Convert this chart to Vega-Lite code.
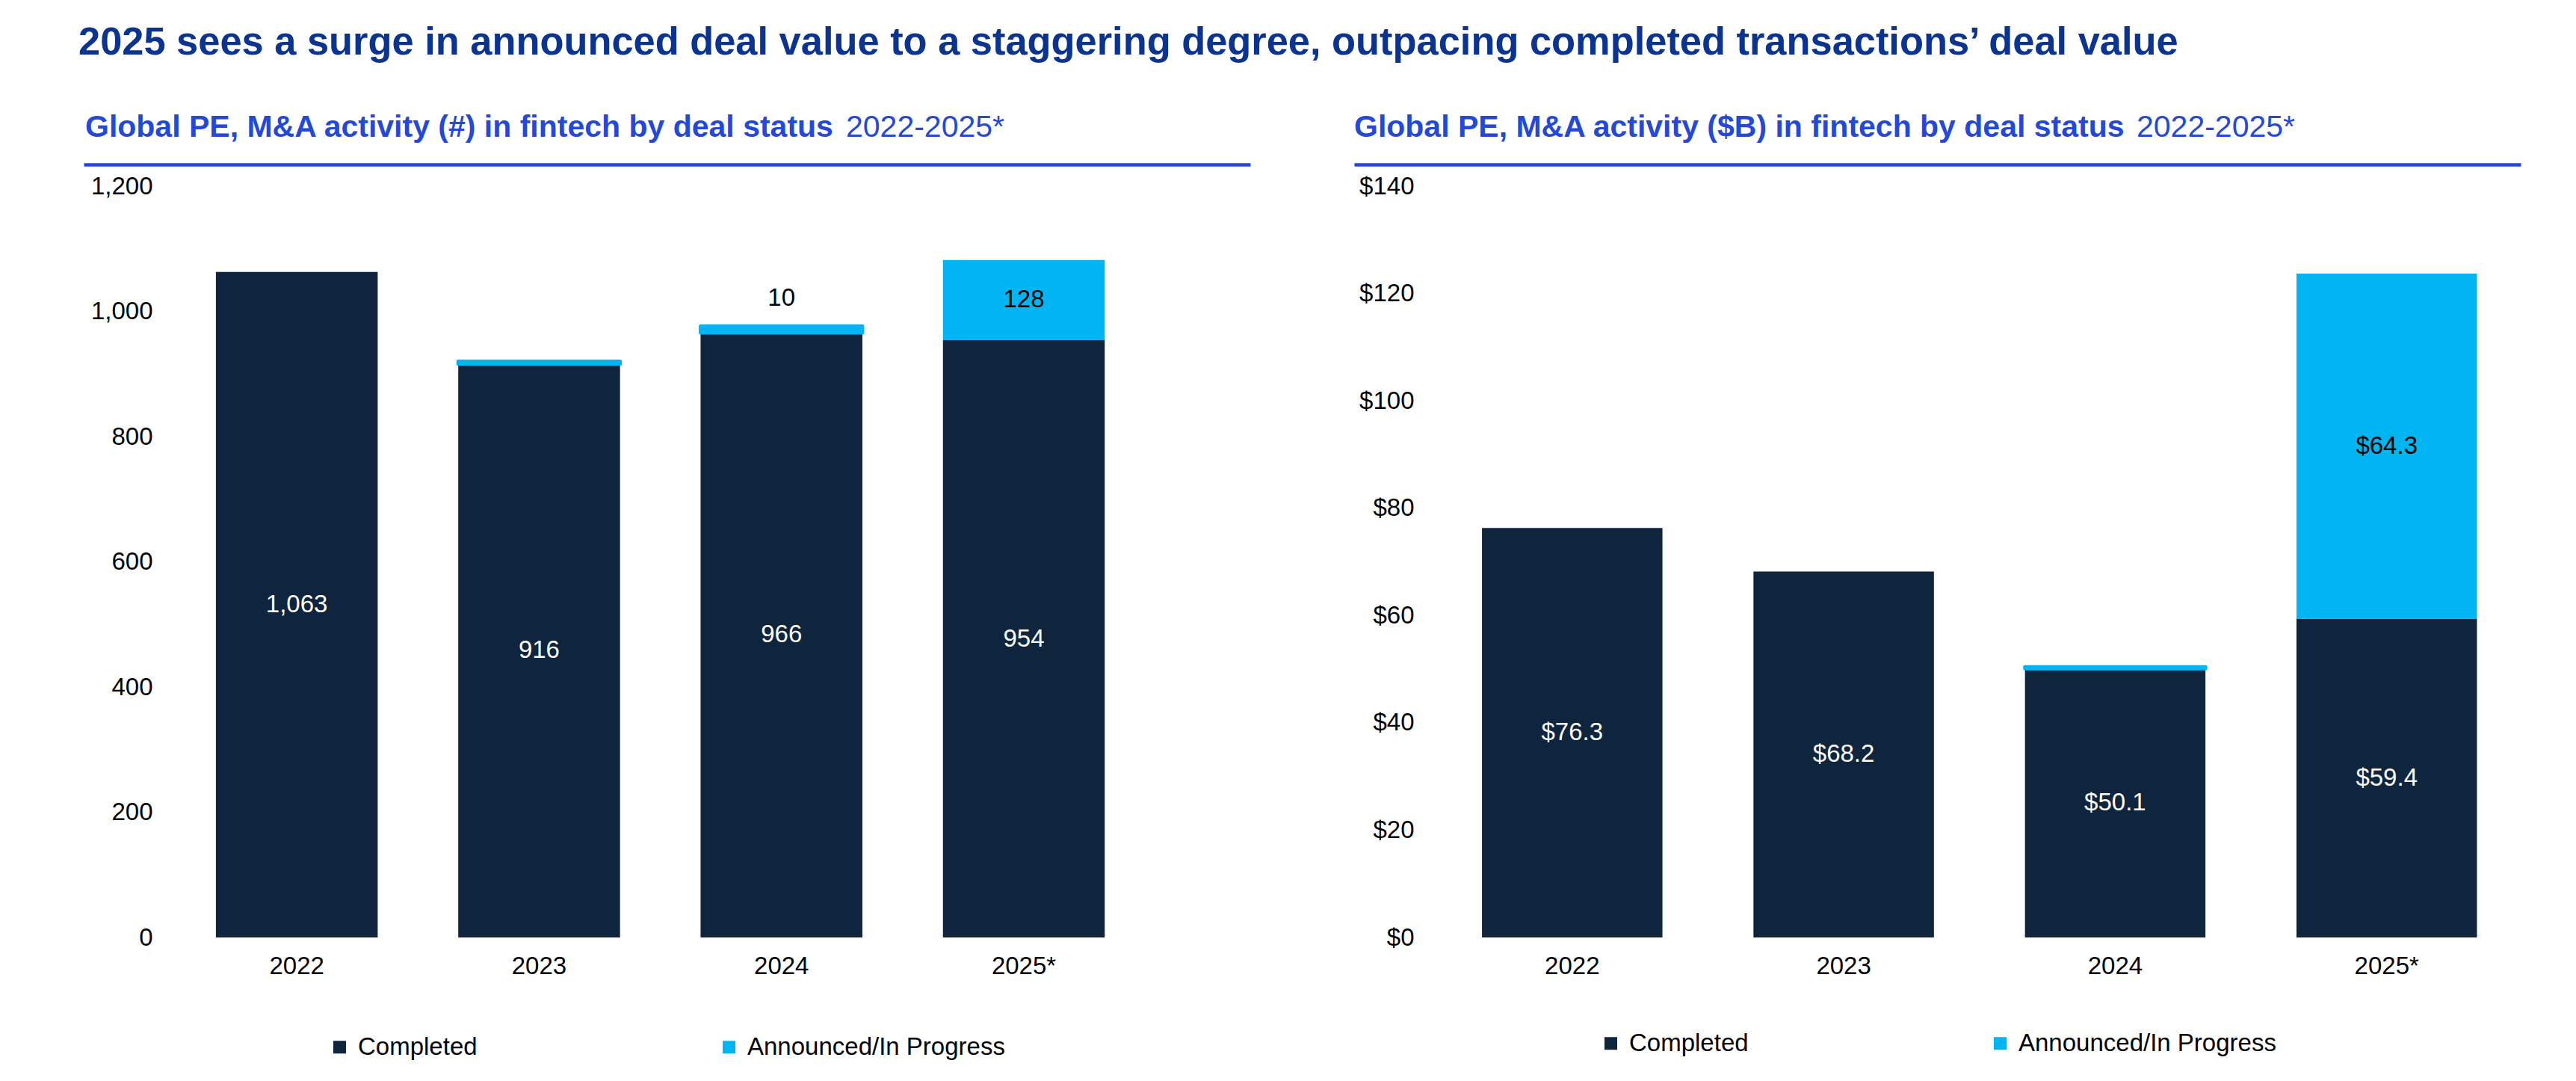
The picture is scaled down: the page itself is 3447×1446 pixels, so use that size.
{
  "$schema": "https://vega.github.io/schema/vega-lite/v6.json",
  "background": "white",
  "padding": {"left": 105, "top": 31, "right": 20, "bottom": 10},
  "title": {
    "text": "2025 sees a surge in announced deal value to a staggering degree, outpacing completed transactions’ deal value",
    "anchor": "start",
    "frame": "bounds",
    "font": "Liberation Sans",
    "fontSize": 52.4,
    "fontWeight": "bold",
    "color": "#0B3390",
    "baseline": "alphabetic",
    "dx": -7,
    "offset": 24
  },
  "config": {
    "font": "Liberation Sans",
    "view": {"stroke": null},
    "axis": {
      "grid": false,
      "labelFont": "Liberation Sans",
      "labelFontSize": 33,
      "labelColor": "#000000"
    },
    "legend": {
      "orient": "none",
      "direction": "horizontal",
      "title": null,
      "symbolType": "square",
      "symbolSize": 289,
      "symbolStrokeWidth": 0,
      "labelFont": "Liberation Sans",
      "labelFontSize": 33,
      "labelColor": "#000000",
      "labelOffset": 8,
      "labelLimit": 0,
      "columnPadding": 320
    }
  },
  "bounds": "flush",
  "spacing": 139,
  "resolve": {"scale": {"color": "independent"}, "legend": {"color": "independent"}},
  "hconcat": [
    {
      "width": 1561,
      "height": 1005,
      "data": {
        "values": [
          {"year": "2022", "status": "Completed", "value": 1063},
          {"year": "2023", "status": "Completed", "value": 916},
          {"year": "2023", "status": "Announced/In Progress", "value": 4},
          {"year": "2024", "status": "Completed", "value": 966},
          {"year": "2024", "status": "Announced/In Progress", "value": 10},
          {"year": "2025*", "status": "Completed", "value": 954},
          {"year": "2025*", "status": "Announced/In Progress", "value": 128}
        ]
      },
      "layer": [
        {
          "mark": {"type": "bar", "stroke": "#00B5F1", "strokeJoin": "round"},
          "encoding": {
            "x": {
              "field": "year",
              "type": "nominal",
              "sort": ["2022", "2023", "2024", "2025*"],
              "scale": {"type": "band", "paddingInner": 0.3324, "paddingOuter": 0.573, "align": 0.476},
              "axis": {"orient": "bottom", "title": null, "labelAngle": 0, "labelPadding": 22, "ticks": false, "tickSize": 0, "domain": false}
            },
            "y": {
              "field": "value",
              "type": "quantitative",
              "stack": "zero",
              "scale": {"domain": [0, 1200], "nice": false},
              "axis": {"values": [0, 200, 400, 600, 800, 1000, 1200], "format": ",d", "title": null, "offset": -92, "labelPadding": 0, "domain": false, "ticks": false, "tickSize": 0}
            },
            "color": {
              "field": "status",
              "type": "nominal",
              "scale": {"domain": ["Completed", "Announced/In Progress"], "range": ["#0F243D", "#00B5F1"]},
              "legend": {"legendX": 326, "legendY": 1135}
            },
            "order": {"field": "status", "sort": "descending"},
            "strokeWidth": {
              "condition": {"test": "datum.status == 'Announced/In Progress' && datum.value < 20", "value": 5},
              "value": 0
            }
          }
        },
        {
          "mark": {"type": "text", "fontSize": 33, "baseline": "middle", "align": "center"},
          "encoding": {
            "x": {"field": "year", "type": "nominal", "sort": ["2022", "2023", "2024", "2025*"], "axis": {"orient": "top", "title": null, "offset": 29, "domain": true, "domainColor": "#2449D0", "domainWidth": 4.5, "labels": false, "ticks": false, "tickSize": 0}},
            "y": {"field": "value", "type": "quantitative", "stack": "zero", "bandPosition": 0.5, "axis": {"values": [0, 200, 400, 600, 800, 1000, 1200], "format": ",d", "title": null, "offset": -92, "labelPadding": 0, "domain": false, "ticks": false, "tickSize": 0}},
            "detail": {"field": "status"},
            "order": {"field": "status", "sort": "descending"},
            "text": {"condition": {"test": "datum.value >= 20", "field": "value", "type": "quantitative", "format": ","}, "value": ""},
            "color": {"condition": {"test": "datum.status == 'Completed'", "value": "#FFFFFF"}, "value": "#000000"}
          }
        },
        {
          "mark": {"type": "text", "fontSize": 33, "baseline": "middle", "align": "center", "dy": -38, "color": "#000000"},
          "encoding": {
            "x": {"field": "year", "type": "nominal", "sort": ["2022", "2023", "2024", "2025*"], "axis": null},
            "y": {"field": "value", "type": "quantitative", "stack": "zero", "axis": {"values": [0, 200, 400, 600, 800, 1000, 1200], "format": ",d", "title": null, "offset": -92, "labelPadding": 0, "domain": false, "ticks": false, "tickSize": 0}},
            "detail": {"field": "status"},
            "order": {"field": "status", "sort": "descending"},
            "text": {"condition": {"test": "datum.status == 'Announced/In Progress' && datum.year == '2024'", "field": "value", "type": "quantitative", "format": ","}, "value": ""}
          }
        },
        {
          "data": {"values": [{"bold": "Global PE, M&A activity (#) in fintech by deal status", "plain": "2022-2025*"}]},
          "layer": [
            {
              "mark": {"type": "text", "font": "Liberation Sans", "fontSize": 41, "fontWeight": "bold", "color": "#2449D8", "align": "left", "baseline": "alphabetic"},
              "encoding": {"text": {"field": "bold"}, "x": {"value": 2}, "y": {"value": -66.5}}
            },
            {
              "mark": {"type": "text", "font": "Liberation Sans", "fontSize": 41, "fontWeight": "normal", "color": "#2449D8", "align": "left", "baseline": "alphabetic"},
              "encoding": {"text": {"field": "plain"}, "x": {"value": 1020}, "y": {"value": -66.5}}
            }
          ]
        }
      ]
    },
    {
      "width": 1561,
      "height": 1005,
      "data": {
        "values": [
          {"year": "2022", "status": "Completed", "value": 76.3},
          {"year": "2023", "status": "Completed", "value": 68.2},
          {"year": "2024", "status": "Completed", "value": 50.1},
          {"year": "2024", "status": "Announced/In Progress", "value": 0.3},
          {"year": "2025*", "status": "Completed", "value": 59.4},
          {"year": "2025*", "status": "Announced/In Progress", "value": 64.3}
        ]
      },
      "layer": [
        {
          "mark": {"type": "bar", "stroke": "#00B5F1", "strokeJoin": "round"},
          "encoding": {
            "x": {
              "field": "year",
              "type": "nominal",
              "sort": ["2022", "2023", "2024", "2025*"],
              "scale": {"type": "band", "paddingInner": 0.3353, "paddingOuter": 0.316, "align": 0.745},
              "axis": {"orient": "bottom", "title": null, "labelAngle": 0, "labelPadding": 22, "ticks": false, "tickSize": 0, "domain": false}
            },
            "y": {
              "field": "value",
              "type": "quantitative",
              "stack": "zero",
              "scale": {"domain": [0, 140], "nice": false},
              "axis": {"values": [0, 20, 40, 60, 80, 100, 120, 140], "format": "$,.0f", "title": null, "offset": -80, "labelPadding": 0, "domain": false, "ticks": false, "tickSize": 0}
            },
            "color": {
              "field": "status",
              "type": "nominal",
              "scale": {"domain": ["Completed", "Announced/In Progress"], "range": ["#0F243D", "#00B5F1"]},
              "legend": {"legendX": 327, "legendY": 1130}
            },
            "order": {"field": "status", "sort": "descending"},
            "strokeWidth": {
              "condition": {"test": "datum.status == 'Announced/In Progress' && datum.value < 20", "value": 5},
              "value": 0
            }
          }
        },
        {
          "mark": {"type": "text", "fontSize": 33, "baseline": "middle", "align": "center"},
          "encoding": {
            "x": {"field": "year", "type": "nominal", "sort": ["2022", "2023", "2024", "2025*"], "axis": {"orient": "top", "title": null, "offset": 29, "domain": true, "domainColor": "#2449D0", "domainWidth": 4.5, "labels": false, "ticks": false, "tickSize": 0}},
            "y": {"field": "value", "type": "quantitative", "stack": "zero", "bandPosition": 0.5, "axis": {"values": [0, 20, 40, 60, 80, 100, 120, 140], "format": "$,.0f", "title": null, "offset": -80, "labelPadding": 0, "domain": false, "ticks": false, "tickSize": 0}},
            "detail": {"field": "status"},
            "order": {"field": "status", "sort": "descending"},
            "text": {"condition": {"test": "datum.value >= 20", "field": "value", "type": "quantitative", "format": "$.1f"}, "value": ""},
            "color": {"condition": {"test": "datum.status == 'Completed'", "value": "#FFFFFF"}, "value": "#000000"}
          }
        },
        {
          "data": {"values": [{"bold": "Global PE, M&A activity ($B) in fintech by deal status", "plain": "2022-2025*"}]},
          "layer": [
            {
              "mark": {"type": "text", "font": "Liberation Sans", "fontSize": 41, "fontWeight": "bold", "color": "#2449D8", "align": "left", "baseline": "alphabetic"},
              "encoding": {"text": {"field": "bold"}, "x": {"value": 0}, "y": {"value": -66.5}}
            },
            {
              "mark": {"type": "text", "font": "Liberation Sans", "fontSize": 41, "fontWeight": "normal", "color": "#2449D8", "align": "left", "baseline": "alphabetic"},
              "encoding": {"text": {"field": "plain"}, "x": {"value": 1047}, "y": {"value": -66.5}}
            }
          ]
        }
      ]
    }
  ]
}
